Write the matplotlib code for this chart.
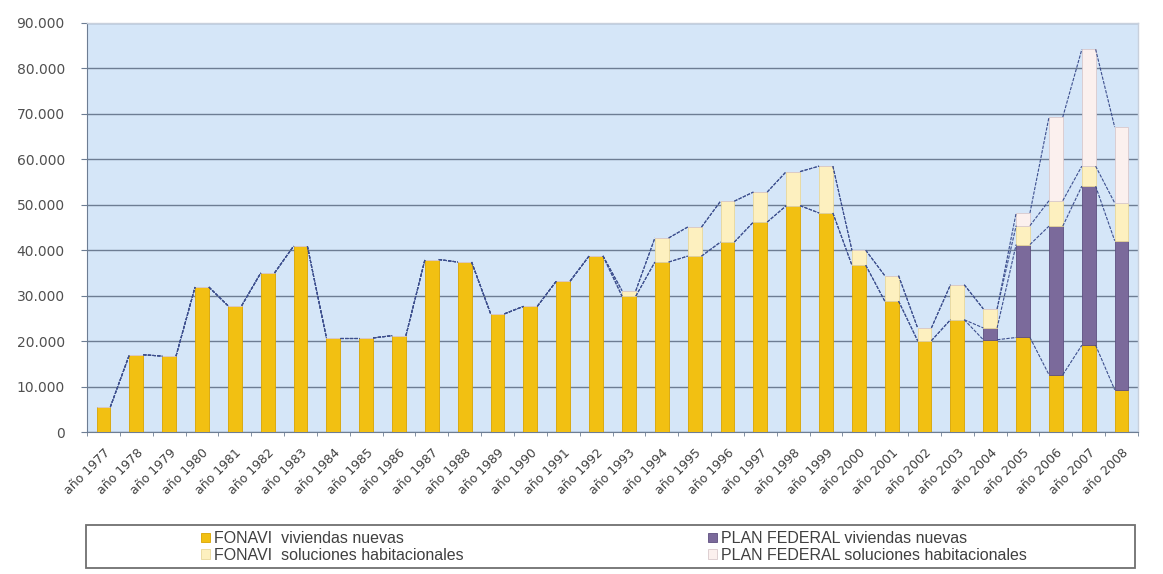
import matplotlib
matplotlib.use("Agg")
import matplotlib.pyplot as plt
import numpy as np
from matplotlib.patches import Rectangle
from matplotlib.ticker import FuncFormatter

years = list(range(1977, 2009))
labels = [f"año {y}" for y in years]

fonavi_nuevas = [5500, 17000, 16700, 31900, 27800, 35000, 40900, 20700, 20700, 21200,
                 37950, 37400, 26000, 27650, 33200, 38750, 29900, 37400, 38700, 41800,
                 46200, 49800, 48200, 36700, 28800, 20100, 24700, 20300, 20800, 12600,
                 19100, 9300]
plan_nuevas = [0]*27 + [2600, 20450, 32700, 35000, 32800]
fonavi_soluciones = [0]*16 + [1200, 5300, 6400, 9000, 6600, 7500, 10300, 3300, 5600, 2800,
                               7700, 4200, 4150, 5600, 4400, 8300]
plan_soluciones = [0]*28 + [2800, 18400, 25700, 16700]

series = [
    ("FONAVI  viviendas nuevas", fonavi_nuevas, "#f2c012", "#d9a400"),
    ("PLAN FEDERAL viviendas nuevas", plan_nuevas, "#7b6a9b", "#5e4f80"),
    ("FONAVI  soluciones habitacionales", fonavi_soluciones, "#fdf0bf", "#e8d79a"),
    ("PLAN FEDERAL soluciones habitacionales", plan_soluciones, "#fbf0ee", "#d9c9cc"),
]

plt.rcParams['font.family'] = ['DejaVu Sans']

W, H = 1163, 574
fig = plt.figure(figsize=(W/100, H/100), dpi=100)
fig.patch.set_facecolor("white")
L, R, T, B = 87, 1138, 23, 432
ax = fig.add_axes([L/W, 1 - B/H, (R-L)/W, (B-T)/H])
ax.set_facecolor("#d5e6f8")

x = np.arange(len(years))
w = 0.42
bottom = np.zeros(len(years))
handles = {}
levels = []
for name, vals, col, ec in series:
    vals = np.array(vals, dtype=float)
    b = ax.bar(x, vals, w, bottom=bottom, color=col, edgecolor=ec, linewidth=0.6,
               zorder=3, label=name)
    handles[name] = b
    bottom = bottom + vals
    levels.append(bottom.copy())

# series lines
for lev in levels:
    for i in range(len(x) - 1):
        ax.plot([x[i] + w/2, x[i+1] - w/2], [lev[i], lev[i+1]], color="#3d4f8e",
                lw=0.8, ls=(0, (3, 1.2)), zorder=4)

ax.set_xlim(-0.5, len(years) - 0.5)
ax.set_ylim(0, 90000)
ax.set_yticks(np.arange(0, 90001, 10000))
ax.yaxis.set_major_formatter(FuncFormatter(lambda v, p: "0" if v == 0 else f"{int(v):,}".replace(",", ".")))
ax.grid(axis="y", color="#6d7d93", lw=1.0, zorder=1)
ax.set_axisbelow(True)

ax.set_xticks(x)
ax.set_xticklabels(labels, rotation=45, ha="right", va="top", rotation_mode="anchor",
                   fontsize=9, color="#404040")
ax.set_xticks(np.arange(-0.5, len(years), 1), minor=True)
ax.tick_params(axis="x", which="major", length=0, pad=10)
ax.tick_params(axis="x", which="minor", length=3, color="#6d7d93", direction="out")
ax.tick_params(axis="y", length=4, color="#6d7d93", labelsize=10, labelcolor="#505050", pad=12)

for s in ["top", "right"]:
    ax.spines[s].set_color("#c8d0dc")
    ax.spines[s].set_linewidth(1.0)
ax.spines["left"].set_color("#6d7d93")
ax.spines["bottom"].set_color("#6d7d93")

# legend box
fig.patches.append(Rectangle((86/W, 1 - 568/H), (1135-86)/W, 43/H,
                             transform=fig.transFigure, fill=False,
                             edgecolor="#707070", lw=1.3))
order = [series[0][0], series[2][0], series[1][0], series[3][0]]
fig.legend([handles[n] for n in order], order, loc="center",
           bbox_to_anchor=(614/W, 1 - 547/H), ncol=2, frameon=False,
           prop={"family": "Liberation Sans", "size": 11.5},
           handlelength=0.55, handleheight=0.55, handletextpad=0.25,
           columnspacing=15.3, labelspacing=0.12, labelcolor="#404040",
           borderpad=0.1)

fig.savefig("out.png", dpi=100)
